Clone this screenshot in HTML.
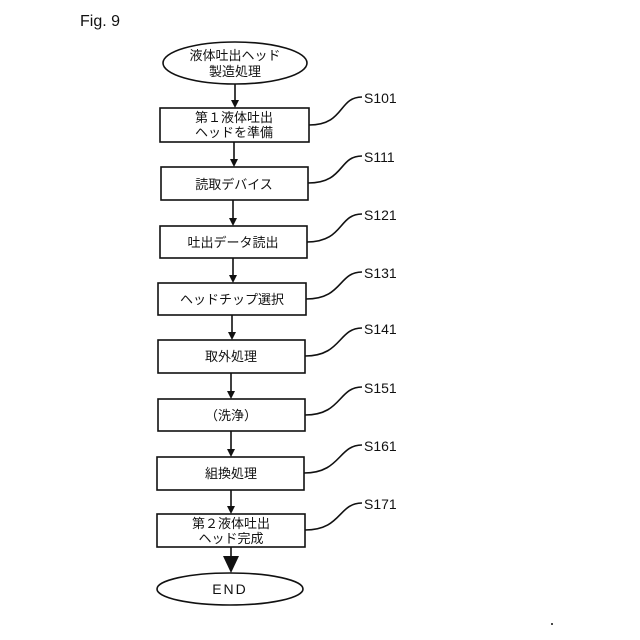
<!DOCTYPE html>
<html><head><meta charset="utf-8"><style>
body{margin:0;background:#fff}
svg{display:block}
text{font-family:"Liberation Sans","Noto Sans CJK JP",sans-serif;fill:#111}
</style></head><body>
<svg width="640" height="640" viewBox="0 0 640 640" xmlns="http://www.w3.org/2000/svg">
<defs><marker id="a" markerWidth="8" markerHeight="10" refX="4" refY="10" orient="auto-start-reverse" markerUnits="userSpaceOnUse"><path d="M0,0 L8,0 L4,10 Z" fill="#111" transform="rotate(-90 4 5) translate(-0 0)"/></marker></defs>
<text x="80" y="26" font-size="16">Fig. 9</text>
<g stroke="#111" stroke-width="1.6" fill="none">
<ellipse cx="235" cy="63" rx="72" ry="21"/>
<rect x="160" y="108" width="149" height="34"/>
<rect x="161" y="167" width="147" height="33"/>
<rect x="160" y="226" width="147" height="32"/>
<rect x="158" y="283" width="148" height="32"/>
<rect x="158" y="340" width="147" height="33"/>
<rect x="158" y="399" width="147" height="32"/>
<rect x="157" y="457" width="147" height="33"/>
<rect x="157" y="514" width="148" height="33"/>
<ellipse cx="230" cy="589" rx="73" ry="16"/>
<path d="M235 84V100M234 142V159M233 200V218M233 258V275M232 315V332M231 373V391M231 431V449M231 490V506M231 547V558"/>
<path d="M309 125 C345 125,338 97,362 97"/>
<path d="M308 183 C345 183,338 156,362 156"/>
<path d="M307 242 C344 242,338 214,362 214"/>
<path d="M306 299 C343 299,338 272,362 272"/>
<path d="M305 356 C342 356,338 328,362 328"/>
<path d="M305 415 C342 415,338 387,362 387"/>
<path d="M304 473 C341 473,338 445,362 445"/>
<path d="M305 530 C342 530,338 503,362 503"/>
</g>
<g fill="#111">
<path d="M231 108 L239 108 L235 100Z" transform="rotate(180 235 104)"/>
<path d="M230 167 L238 167 L234 159Z" transform="rotate(180 234 163)"/>
<path d="M229 226 L237 226 L233 218Z" transform="rotate(180 233 222)"/>
<path d="M229 283 L237 283 L233 275Z" transform="rotate(180 233 279)"/>
<path d="M228 340 L236 340 L232 332Z" transform="rotate(180 232 336)"/>
<path d="M227 399 L235 399 L231 391Z" transform="rotate(180 231 395)"/>
<path d="M227 457 L235 457 L231 449Z" transform="rotate(180 231 453)"/>
<path d="M227 514 L235 514 L231 506Z" transform="rotate(180 231 510)"/>
<path d="M223 556 L239 556 L231 573Z"/>
</g>
<g font-size="13" text-anchor="middle">
<text x="235" y="60">液体吐出ヘッド</text>
<text x="235" y="76">製造処理</text>
<text x="234" y="122">第１液体吐出</text>
<text x="234" y="137">ヘッドを準備</text>
<text x="234" y="189">読取デバイス</text>
<text x="233" y="247">吐出データ読出</text>
<text x="232" y="304">ヘッドチップ選択</text>
<text x="231" y="361">取外処理</text>
<text x="231" y="420">（洗浄）</text>
<text x="231" y="478">組換処理</text>
<text x="231" y="528">第２液体吐出</text>
<text x="231" y="543">ヘッド完成</text>
<text x="230" y="594" font-size="14" letter-spacing="2">END</text>
</g>
<g font-size="14">
<text x="364" y="103">S101</text>
<text x="364" y="162">S111</text>
<text x="364" y="220">S121</text>
<text x="364" y="278">S131</text>
<text x="364" y="334">S141</text>
<text x="364" y="393">S151</text>
<text x="364" y="451">S161</text>
<text x="364" y="509">S171</text>
</g>
<circle cx="552" cy="624" r="1" fill="#111"/>
</svg>
</body></html>
